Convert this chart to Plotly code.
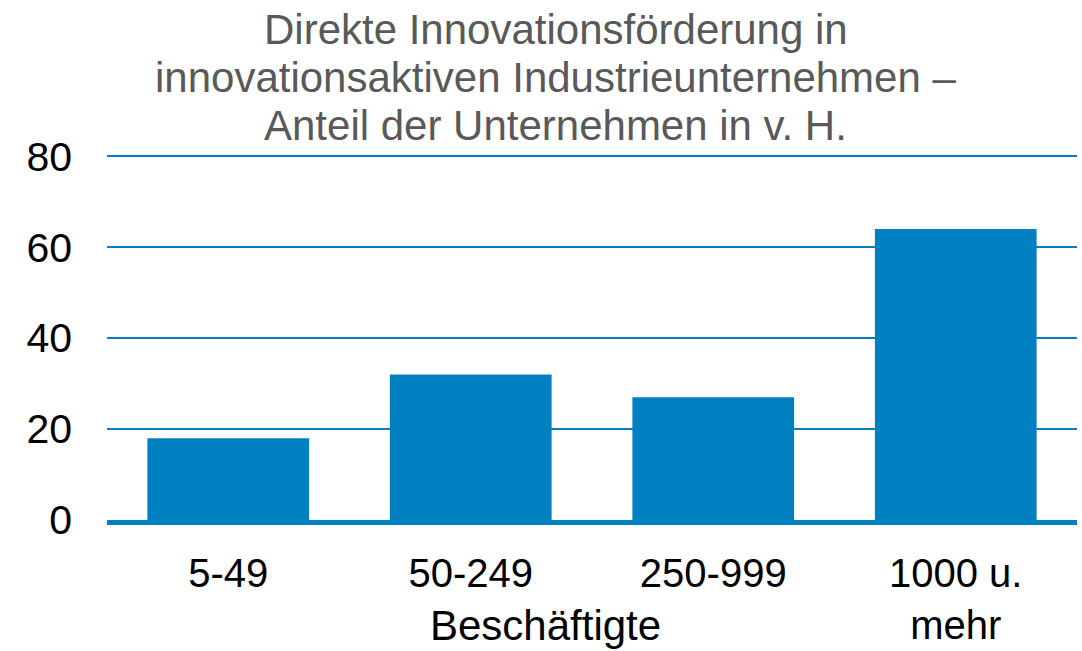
import plotly.graph_objects as go

categories = ["5-49", "50-249", "250-999", "1000 u.<br>mehr"]
values = [18, 32, 27, 64]
y_ticks = [0, 20, 40, 60, 80]
title_lines = ["Direkte Innovationsförderung in",
               "innovationsaktiven Industrieunternehmen –",
               "Anteil der Unternehmen in v. H."]
x_title = "Beschäftigte"

BLUE = "#0080C0"
FONT = "Liberation Sans, Arial, sans-serif"

fig = go.Figure(go.Bar(x=categories, y=values, marker=dict(color=BLUE, line=dict(width=0))))

fig.update_layout(
    width=1082, height=651,
    margin=dict(l=107, r=5, t=154, b=131, autoexpand=False),
    paper_bgcolor="white", plot_bgcolor="white",
    bargap=0.333,
    showlegend=False,
    font=dict(family=FONT, size=40, color="black"),
)
fig.update_yaxes(range=[0, 80.5], tickvals=y_ticks, showgrid=True, gridcolor=BLUE, gridwidth=2,
                 zeroline=False, automargin=False, ticklabelstandoff=34,
                 tickfont=dict(size=41, color="black"))
fig.update_xaxes(showline=True, linecolor=BLUE, linewidth=5, showgrid=False, automargin=False,
                 ticklabelstandoff=14, tickfont=dict(size=40, color="black"))

ys = [1.341, 1.2085, 1.0775]
for line, yy in zip(title_lines, ys):
    fig.add_annotation(text=line, xref="paper", yref="paper", x=0.4626, y=yy,
                       xanchor="center", yanchor="middle", showarrow=False,
                       font=dict(family=FONT, size=42, color="#595959"))

fig.add_annotation(text=x_title, xref="paper", yref="paper", x=0.4523, y=-0.2869,
                   xanchor="center", yanchor="middle", showarrow=False,
                   font=dict(family=FONT, size=42, color="black"))

fig.write_html("out.html", config={"displayModeBar": False})

with open("out.html", encoding="utf-8") as f:
    html = f.read()
html = html.replace("<head>", "<head><style>html,body{margin:0;padding:0;overflow:hidden;}</style>", 1)
with open("out.html", "w", encoding="utf-8") as f:
    f.write(html)
